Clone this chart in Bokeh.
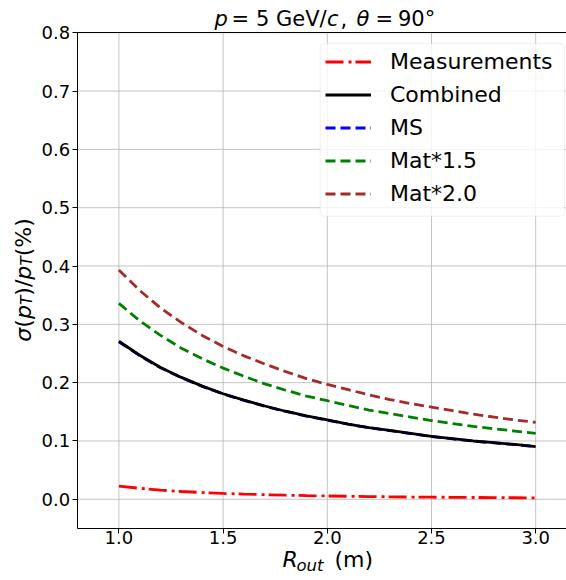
import numpy as np
from bokeh.plotting import figure
from bokeh.models import (Label, Legend, LegendItem, FixedTicker, Range1d, LinearAxis,
                          ColumnDataSource, PrintfTickFormatter, BoxAnnotation)
from bokeh.embed import file_html
from bokeh.resources import INLINE

# ---------------- data ----------------
r_out = [1.0, 1.1, 1.2, 1.3, 1.4, 1.5, 1.6, 1.7, 1.8, 1.9, 2.0,
         2.1, 2.2, 2.3, 2.4, 2.5, 2.6, 2.7, 2.8, 2.9, 3.0]
measurements = [0.0227, 0.0188, 0.0158, 0.0134, 0.0116, 0.0101, 0.0089, 0.0079,
                0.0070, 0.0063, 0.0057, 0.0052, 0.0047, 0.0043, 0.0039, 0.0036,
                0.0034, 0.0031, 0.0029, 0.0027, 0.0025]
combined = [0.271, 0.247, 0.226, 0.209, 0.194, 0.181, 0.170, 0.160, 0.151, 0.143,
            0.136, 0.129, 0.123, 0.118, 0.113, 0.108, 0.104, 0.100, 0.097, 0.094,
            0.0905]
ms = [0.2700, 0.2462, 0.2254, 0.2085, 0.1936, 0.1806, 0.1696, 0.1596, 0.1506,
      0.1426, 0.1357, 0.1287, 0.1227, 0.1177, 0.1127, 0.1077, 0.1037, 0.0997,
      0.0967, 0.0937, 0.0903]
mat15 = [0.336, 0.306, 0.281, 0.259, 0.241, 0.225, 0.211, 0.198, 0.187, 0.177,
         0.169, 0.161, 0.153, 0.147, 0.141, 0.135, 0.130, 0.125, 0.121, 0.117,
         0.113]
mat20 = [0.393, 0.358, 0.328, 0.303, 0.281, 0.262, 0.246, 0.232, 0.219, 0.207,
         0.197, 0.188, 0.179, 0.171, 0.164, 0.158, 0.152, 0.146, 0.141, 0.136,
         0.132]
series_labels = ["Measurements", "Combined", "MS", "Mat*1.5", "Mat*2.0"]
x_ticks = [1.0, 1.5, 2.0, 2.5, 3.0]
y_ticks = [0.0, 0.1, 0.2, 0.3, 0.4, 0.5, 0.6, 0.7, 0.8]
x_limits = [0.8, 3.2]
y_limits = [-0.05, 0.8]

# ---------------- layout ----------------
FONT = "DejaVu Sans"
W, H = 566, 580
PX_X1, PX_PER_X = 118.4, 208.4     # canvas x of R=1.0, px per unit
PX_Y0, PX_PER_Y = 498.8, 583.2     # canvas y of 0.0, px per unit
SHIFT = -9                          # baseline correction for Label text


def xd(px):
    return 1.0 + (px - PX_X1) / PX_PER_X


def yd(py):
    return (PX_Y0 - py) / PX_PER_Y


p = figure(width=W, height=H, output_backend="svg", toolbar_location=None,
           title=None, x_range=Range1d(xd(0), xd(W)), y_range=Range1d(yd(H), yd(0)),
           min_border=0)
p.outline_line_color = None
p.background_fill_color = "white"
p.border_fill_color = "white"
p.grid.visible = False

p.xaxis.fixed_location = y_limits[0]
p.xaxis.bounds = tuple(x_limits)
p.yaxis.fixed_location = x_limits[0]
p.yaxis.bounds = tuple(y_limits)
for ax in (p.xaxis[0], p.yaxis[0]):
    ax.axis_line_color = "black"
    ax.axis_line_width = 1
    ax.major_tick_line_color = "black"
    ax.major_tick_line_width = 1
    ax.major_tick_in = 0
    ax.major_tick_out = 5
    ax.minor_tick_line_color = None
    ax.major_label_text_font = FONT
    ax.major_label_text_font_size = "18px"
    ax.major_label_text_color = "black"
    ax.formatter = PrintfTickFormatter(format="%.1f")
p.xaxis.ticker = FixedTicker(ticks=x_ticks)
p.yaxis.ticker = FixedTicker(ticks=y_ticks)
p.xaxis.major_label_standoff = -2
p.yaxis.major_label_standoff = 2

# top spine
top = LinearAxis(fixed_location=y_limits[1], bounds=tuple(x_limits),
                 ticker=FixedTicker(ticks=[]), axis_line_color="black",
                 axis_line_width=1, major_tick_line_color=None,
                 minor_tick_line_color=None)
p.add_layout(top, "above")

# grid lines (within the axes box)
GRID = dict(line_color="#b0b0b0", line_alpha=0.75, line_width=1)
p.segment(x0=x_ticks, y0=[y_limits[0]] * len(x_ticks), x1=x_ticks,
          y1=[y_limits[1]] * len(x_ticks), **GRID)
p.segment(x0=[x_limits[0]] * len(y_ticks), y0=y_ticks,
          x1=[x_limits[1]] * len(y_ticks), y1=y_ticks, **GRID)

src = ColumnDataSource(dict(r=r_out, meas=measurements, comb=combined, ms=ms,
                            m15=mat15, m20=mat20))
LW = 2.8
r_meas = p.line("r", "meas", source=src, line_color="red", line_width=LW,
                line_dash="18 5 3 4")
r_ms = p.line("r", "ms", source=src, line_color="blue", line_width=LW,
              line_dash="10 5")
r_comb = p.line("r", "comb", source=src, line_color="black", line_width=LW)
r_m15 = p.line("r", "m15", source=src, line_color="green", line_width=LW,
               line_dash="10 5")
r_m20 = p.line("r", "m20", source=src, line_color="brown", line_width=LW,
               line_dash="10 5")

# legend frame (rounded, semi-transparent, light grey edge)
frame_box = BoxAnnotation(left=xd(319.7), right=xd(564), top=yd(43.3),
                          bottom=yd(215.7), fill_color="white", fill_alpha=0.8,
                          line_color="#cccccc", line_width=1)
if "border_radius" in BoxAnnotation.properties():
    frame_box.border_radius = 4
p.add_layout(frame_box)

items = [LegendItem(label=lab, renderers=[rr]) for lab, rr in
         zip(series_labels, [r_meas, r_comb, r_ms, r_m15, r_m20])]
legend = Legend(items=items, location=(325, 371), margin=0, padding=5,
                spacing=2, glyph_width=46, glyph_height=31, label_height=31,
                label_width=168, label_standoff=19,
                label_text_font=FONT, label_text_font_size="22px",
                label_text_color="black",
                border_line_color=None, background_fill_alpha=0)
p.add_layout(legend)


def piece(text, px, py, size, italic=False, angle=0.0):
    if angle:
        px += SHIFT
    else:
        py += SHIFT
    p.add_layout(Label(x=xd(px), y=yd(py), text=text, angle=angle,
                       text_font=FONT, text_font_size=f"{size}px",
                       text_font_style="italic" if italic else "normal",
                       text_color="black", text_align="left",
                       text_baseline="alphabetic"))


# title: p = 5 GeV/c, θ = 90°
TB = 27
piece("p", 214, TB, 21, True)
piece("=", 231, TB, 21)
piece("5 GeV/", 255.5, TB, 21)
piece("c", 326.5, TB, 21, True)
piece(",", 340, TB, 21)
piece("θ", 356, TB, 21, True)
piece("=", 375, TB, 21)
piece("90°", 397.5, TB, 21)

# x label: R_out (m)
piece("R", 282, 568.3, 22, True)
piece("out", 296, 573.5, 16.5, True)
piece("(m)", 334, 568.3, 22)

# y label: σ(p_T)/p_T(%)
A = np.pi / 2
BX, SX = 32, 35.5
piece("σ", BX, 341.2, 22, True, A)
piece("(", BX, 327.2, 22, False, A)
piece("p", BX, 318.6, 22, True, A)
piece("T", SX, 304.6, 15.4, True, A)
piece(")/", BX, 295.2, 22, False, A)
piece("p", BX, 279.2, 22, True, A)
piece("T", SX, 265.2, 15.4, True, A)
piece("(%)", BX, 255.8, 22, False, A)

open("out.html", "w").write(file_html(p, INLINE))
